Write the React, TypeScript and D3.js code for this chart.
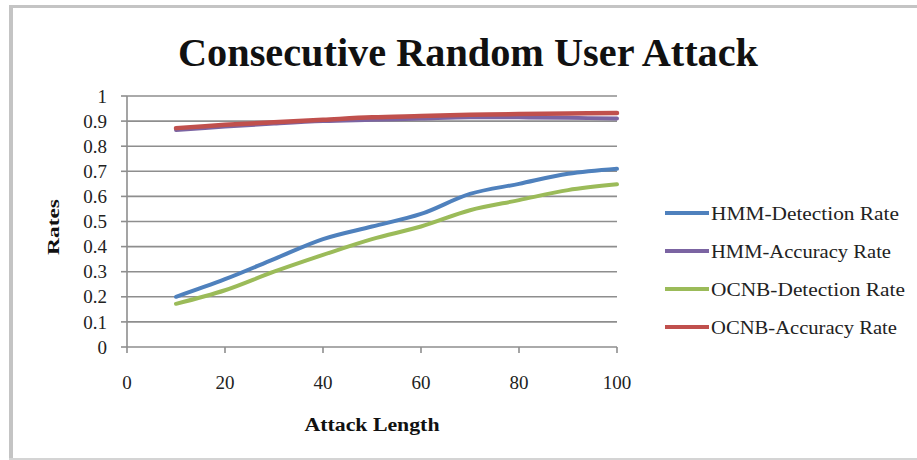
import React from "react";
import * as d3 from "d3";

const attackLengths = [10, 20, 30, 40, 50, 60, 70, 80, 90, 100];
const hmmDetection = [0.2, 0.27, 0.35, 0.43, 0.48, 0.53, 0.61, 0.65, 0.69, 0.71];
const hmmAccuracy = [0.865, 0.878, 0.89, 0.9, 0.905, 0.91, 0.915, 0.915, 0.913, 0.91];
const ocnbDetection = [0.172, 0.226, 0.3, 0.367, 0.43, 0.48, 0.545, 0.585, 0.625, 0.648];
const ocnbAccuracy = [0.872, 0.885, 0.895, 0.905, 0.915, 0.92, 0.925, 0.928, 0.93, 0.932];
const seriesNames = ["HMM-Detection Rate", "HMM-Accuracy Rate", "OCNB-Detection Rate", "OCNB-Accuracy Rate"];
const seriesColors = ["#4f81bd", "#7b64a2", "#9bbb59", "#c0504d"];
const xTicks = [0, 20, 40, 60, 80, 100];
const yTicks = [0, 0.1, 0.2, 0.3, 0.4, 0.5, 0.6, 0.7, 0.8, 0.9, 1];
const yTickLabels = ["0", "0.1", "0.2", "0.3", "0.4", "0.5", "0.6", "0.7", "0.8", "0.9", "1"];

const W = 917;
const H = 460;
const left = 127;
const right = 617;
const top = 96;
const bottom = 347;

export default function App() {
  const x = d3.scaleLinear().domain([0, 100]).range([left, right]);
  const y = d3.scaleLinear().domain([0, 1]).range([bottom, top]);
  const allSeries = [hmmDetection, hmmAccuracy, ocnbDetection, ocnbAccuracy];
  const line = d3
    .line<number>()
    .x((_, i) => x(attackLengths[i]))
    .y((d) => y(d))
    .curve(d3.curveCatmullRom.alpha(0.5));
  const serif = "'Liberation Serif', 'DejaVu Serif', serif";
  const legendLengths = [188, 180, 194, 186];

  return (
    <svg
      width={W}
      height={H}
      style={{ position: "absolute", left: 0, top: 0, background: "#fff" }}
    >
      <rect x={0} y={0} width={W} height={H} fill="#fff" />
      {/* frame */}
      <line x1={11} y1={6} x2={11} y2={460} stroke="#c4c4c4" strokeWidth={4} />
      <line x1={9} y1={6.5} x2={917} y2={6.5} stroke="#c4c4c4" strokeWidth={3} />
      <line x1={9} y1={459} x2={917} y2={459} stroke="#d4d4d4" strokeWidth={2} />

      {/* title */}
      <text
        x={468}
        y={66}
        textAnchor="middle"
        fontFamily={serif}
        fontWeight="bold"
        fontSize={41}
        textLength={580}
        lengthAdjust="spacingAndGlyphs"
        fill="#111"
      >
        Consecutive Random User Attack
      </text>

      {/* gridlines */}
      {yTicks.map((t) =>
        t === 0 ? null : (
          <line
            key={"g" + t}
            x1={left}
            x2={right}
            y1={y(t)}
            y2={y(t)}
            stroke="#8e8e8e"
            strokeWidth={1.6}
          />
        )
      )}
      {/* axes */}
      <line x1={left} x2={left} y1={top} y2={bottom} stroke="#8e8e8e" strokeWidth={1.6} />
      <line x1={left} x2={right} y1={bottom} y2={bottom} stroke="#8e8e8e" strokeWidth={1.6} />
      {yTicks.map((t) => (
        <line key={"yt" + t} x1={left - 6} x2={left} y1={y(t)} y2={y(t)} stroke="#8e8e8e" strokeWidth={1.6} />
      ))}
      {xTicks.map((t) => (
        <line key={"xt" + t} x1={x(t)} x2={x(t)} y1={bottom} y2={bottom + 6} stroke="#8e8e8e" strokeWidth={1.6} />
      ))}
      {yTicks.map((t, i) => (
        <text
          key={"yl" + t}
          x={107}
          y={y(t)}
          dy="0.35em"
          textAnchor="end"
          fontFamily={serif}
          fontSize={19}
          fill="#222"
        >
          {yTickLabels[i]}
        </text>
      ))}
      {xTicks.map((t) => (
        <text
          key={"xl" + t}
          x={x(t)}
          y={382}
          dy="0.35em"
          textAnchor="middle"
          fontFamily={serif}
          fontSize={19}
          fill="#222"
        >
          {t}
        </text>
      ))}
      <text
        x={372}
        y={431}
        textAnchor="middle"
        fontFamily={serif}
        fontWeight="bold"
        fontSize={18}
        textLength={135}
        lengthAdjust="spacingAndGlyphs"
        fill="#111"
      >
        Attack Length
      </text>
      <text
        transform={`translate(59,227) rotate(-90)`}
        textAnchor="middle"
        fontFamily={serif}
        fontWeight="bold"
        fontSize={17}
        textLength={56}
        lengthAdjust="spacingAndGlyphs"
        fill="#111"
      >
        Rates
      </text>

      {/* series */}
      {allSeries.map((s, i) => (
        <path
          key={"s" + i}
          d={line(s) || ""}
          fill="none"
          stroke={seriesColors[i]}
          strokeWidth={i === 3 ? 4.5 : 4}
          strokeLinecap="round"
          strokeLinejoin="round"
        />
      ))}

      {/* legend */}
      {seriesNames.map((n, i) => {
        const ly = 213 + i * 38;
        return (
          <g key={"lg" + i}>
            <line x1={665} x2={709} y1={ly} y2={ly} stroke={seriesColors[i]} strokeWidth={4} />
            <text
              x={711}
              y={ly}
              dy="0.35em"
              fontFamily={serif}
              fontSize={19}
              textLength={legendLengths[i]}
              lengthAdjust="spacingAndGlyphs"
              fill="#222"
            >
              {n}
            </text>
          </g>
        );
      })}
    </svg>
  );
}
